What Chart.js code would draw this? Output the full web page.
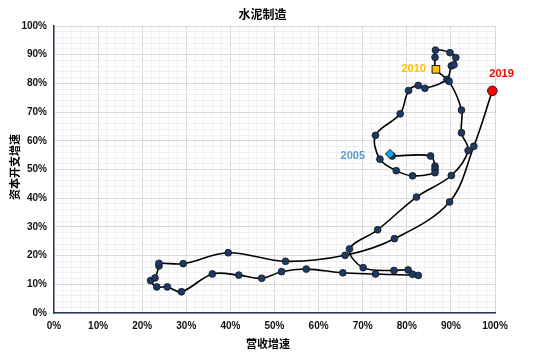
<!DOCTYPE html>
<html><head><meta charset="utf-8">
<script src="https://cdn.jsdelivr.net/npm/chart.js@4.4.1/dist/chart.umd.min.js"></script>
<style>html,body{margin:0;padding:0;background:#fff;} canvas{display:block;}</style>
</head><body>
<canvas id="c" width="550" height="355"></canvas>
<script>
const chartTitle = '水泥制造';
const xAxisTitle = '营收增速';
const yAxisTitle = '资本开支增速';

// path of quarterly points (revenue growth %, capex growth %)
const revenueGrowth = [76.7, 85.4, 86.4, 86.4, 86.4, 81.3, 77.6, 73.9, 72.9, 78.5,
  80.4, 82.6, 84.1, 89.1, 90.1, 90.7, 91.1, 89.8, 86.5, 86.4,
  86.6, 89.6, 92.4, 92.4, 93.9, 90.1, 82.2, 73.4, 67.0, 70.1,
  77.1, 80.3, 81.3, 82.6, 72.9, 65.5, 57.2, 51.6, 47.1, 41.9,
  35.9, 28.9, 25.7, 23.3, 21.9, 22.9, 23.8, 23.8, 29.3, 39.5,
  52.5, 66.0, 77.2, 89.7, 95.2, 99.4];
const capexGrowth = [54.7, 54.7, 51.2, 50.1, 48.9, 47.8, 49.6, 53.6, 61.9, 69.4,
  77.5, 79.3, 78.3, 81.4, 86.1, 86.5, 89.0, 90.7, 91.6, 89.1,
  84.9, 80.7, 70.7, 62.8, 56.6, 47.9, 40.4, 29.0, 22.3, 15.8,
  14.8, 15.0, 13.5, 13.1, 13.6, 14.0, 15.3, 14.4, 12.1, 13.2,
  13.6, 7.4, 9.1, 9.1, 11.3, 12.2, 16.4, 17.3, 17.2, 21.0,
  18.0, 20.1, 25.9, 38.7, 58.1, 77.4];

const highlightYears = ['2005', '2010', '2019'];
const highlightX = [76.2, 86.6, 99.4];
const highlightY = [55.4, 84.9, 77.4];

const axisTicks = [0, 10, 20, 30, 40, 50, 60, 70, 80, 90, 100];

const pathData = revenueGrowth.map((x, i) => ({x: x, y: capexGrowth[i]}));
const markData = highlightX.map((x, i) => ({x: x, y: highlightY[i]}));

const markStyle = ['rectRot', 'rect', 'circle'];
const markFill = ['#11A7E8', '#FFC000', '#FF0000'];
const markRadius = [4.6, 5.4, 4.8];
const labelColor = ['#5B9BD5', '#FFC000', '#FF0000'];
const labelAlign = ['right', 'right', 'left'];
const labelDx = [-25, -10, -3];
const labelDy = [2, 0, -17];

const latin = "'Liberation Sans', Arial, sans-serif";
const cjk = "'Noto Sans CJK SC', sans-serif";

const textPlugin = {
  id: 'texts',
  afterDatasetsDraw(chart) {
    const ctx = chart.ctx;
    const xs = chart.scales.x, ys = chart.scales.y;
    ctx.save();
    ctx.textBaseline = 'middle';
    ctx.font = 'bold 11px ' + latin;
    highlightYears.forEach((t, i) => {
      const px = xs.getPixelForValue(highlightX[i]);
      const py = ys.getPixelForValue(highlightY[i]);
      ctx.fillStyle = labelColor[i];
      ctx.textAlign = labelAlign[i];
      ctx.fillText(t, px + labelDx[i], py + labelDy[i]);
    });
    ctx.fillStyle = '#000';
    ctx.textAlign = 'center';
    ctx.font = 'bold 12px ' + cjk;
    ctx.fillText(chartTitle, 262.5, 14);
    ctx.font = 'bold 11px ' + cjk;
    ctx.fillText(xAxisTitle, 268, 344);
    ctx.translate(15, 167);
    ctx.rotate(-Math.PI / 2);
    ctx.fillText(yAxisTitle, 0, 0);
    ctx.restore();
  }
};

function gridColor(c) {
  return (c.tick && axisTicks.includes(c.tick.value)) ? '#d9d9d9' : '#efefef';
}

new Chart(document.getElementById('c'), {
  type: 'scatter',
  data: {
    datasets: [
      {
        data: markData,
        order: 0,
        showLine: false,
        clip: false,
        pointStyle: c => markStyle[c.dataIndex],
        pointRadius: c => markRadius[c.dataIndex],
        pointBackgroundColor: c => markFill[c.dataIndex],
        pointBorderColor: '#1a1a1a',
        pointBorderWidth: 1,
        pointHoverRadius: c => markRadius[c.dataIndex]
      },
      {
        data: pathData,
        order: 1,
        showLine: true,
        clip: false,
        tension: 0.35,
        borderColor: '#000',
        borderWidth: 1.6,
        pointRadius: 3.4,
        pointHoverRadius: 3.4,
        pointBackgroundColor: '#1F3A60',
        pointBorderColor: '#0b1628',
        pointBorderWidth: 0.8
      }
    ]
  },
  options: {
    responsive: false,
    animation: false,
    events: [],
    layout: {padding: {top: 26, right: 55, left: 0, bottom: 0}},
    plugins: {legend: {display: false}, tooltip: {enabled: false}, title: {display: false}},
    scales: {
      x: {
        type: 'linear', min: 0, max: 100,
        afterFit: s => { s.height = 42; },
        border: {display: true, color: '#243a5e', width: 1.5},
        grid: {color: gridColor, drawTicks: false, lineWidth: 1},
        ticks: {
          stepSize: 2, autoSkip: false, maxRotation: 0, padding: 7,
          color: '#111',
          font: {family: latin, size: 10, weight: 'bold'},
          callback: v => axisTicks.includes(v) ? v + '%' : ''
        }
      },
      y: {
        type: 'linear', min: 0, max: 100,
        afterFit: s => { s.width = 54; },
        border: {display: true, color: '#243a5e', width: 1.5},
        grid: {color: gridColor, drawTicks: false, lineWidth: 1},
        ticks: {
          stepSize: 2, autoSkip: false, padding: 7,
          color: '#111',
          font: {family: latin, size: 10, weight: 'bold'},
          callback: v => axisTicks.includes(v) ? v + '%' : ''
        }
      }
    }
  },
  plugins: [textPlugin]
});
</script>
</body></html>
